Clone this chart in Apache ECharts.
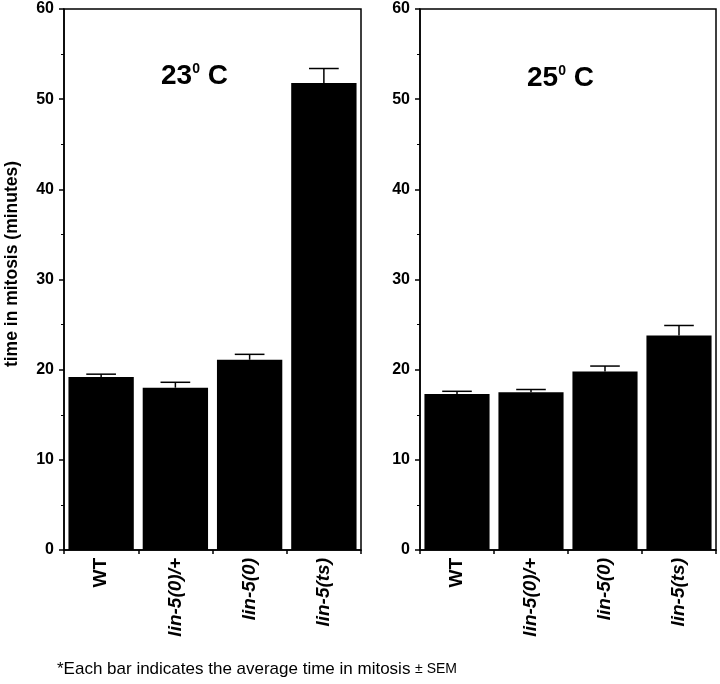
<!DOCTYPE html>
<html>
<head>
<meta charset="utf-8">
<script src="https://cdn.jsdelivr.net/npm/echarts@6/dist/echarts.min.js"></script>
<style>html,body{margin:0;padding:0;background:#fff}#c{width:720px;height:684px}</style>
</head>
<body>
<div id="c"></div>
<script>
var categories = ['WT', 'lin-5(0)/+', 'lin-5(0)', 'lin-5(ts)'];
var means23 = [19.2, 18.0, 21.1, 51.8];
var upper23 = [19.5, 18.6, 21.7, 53.4];
var means25 = [17.3, 17.5, 19.8, 23.8];
var upper25 = [17.6, 17.8, 20.4, 24.9];
var yTicks = [0, 10, 20, 30, 40, 50, 60];
var titles = ['23', '25'];

var FONT = '"Liberation Sans", Arial, Helvetica, sans-serif';
var chart = echarts.init(document.getElementById('c'), null, {renderer: 'canvas'});

function errData(means, ups) {
  return means.map(function (m, i) { return [i, m, ups[i]]; });
}
function renderErr(params, api) {
  var x = api.value(0), lo = api.coord([x, api.value(1)]), hi = api.coord([x, api.value(2)]);
  var half = api.size([1, 0])[0] * 0.2;
  var st = {stroke: '#000', lineWidth: 1.5};
  return {type: 'group', children: [
    {type: 'line', shape: {x1: lo[0], y1: lo[1], x2: hi[0], y2: hi[1]}, style: st},
    {type: 'line', shape: {x1: hi[0] - half, y1: hi[1], x2: hi[0] + half, y2: hi[1]}, style: st}
  ]};
}
function xAxis(idx) {
  return {
    type: 'category', gridIndex: idx, data: categories,
    axisLine: {lineStyle: {color: '#000', width: 1.5}},
    axisTick: {show: true, length: 4, lineStyle: {color: '#000', width: 1.5}},
    axisLabel: {
      rotate: 90, margin: 8, color: '#000', fontFamily: FONT, fontSize: 19, fontWeight: 'bold',
      formatter: function (v) { return v === 'WT' ? '{n|' + v + '}' : '{i|' + v + '}'; },
      rich: {
        n: {fontFamily: FONT, fontSize: 19, fontWeight: 'bold', color: '#000'},
        i: {fontFamily: FONT, fontSize: 19, fontWeight: 'bold', fontStyle: 'italic', color: '#000'}
      }
    }
  };
}
function yAxis(idx) {
  return {
    type: 'value', gridIndex: idx, min: yTicks[0], max: yTicks[yTicks.length - 1],
    interval: yTicks[1] - yTicks[0],
    axisLine: {show: true, lineStyle: {color: '#000', width: 1.5}},
    axisTick: {show: true, length: 5, lineStyle: {color: '#000', width: 1.5}},
    minorTick: {show: true, splitNumber: 2, length: 3, lineStyle: {color: '#000', width: 1}},
    splitLine: {show: false},
    axisLabel: {color: '#000', fontFamily: FONT, fontSize: 16, fontWeight: 'bold', margin: 10}
  };
}
function titleText(t, x, y) {
  return {
    type: 'text', left: x, top: y,
    style: {
      text: '{b|' + t + '}{s|0}{b| C}',
      rich: {
        b: {fontFamily: FONT, fontSize: 28, fontWeight: 'bold', fill: '#000', color: '#000', lineHeight: 30},
        s: {fontFamily: FONT, fontSize: 14, fontWeight: 'bold', fill: '#000', color: '#000', lineHeight: 30, padding: [0, 0, 14, 0]}
      }
    }
  };
}

chart.setOption({
  animation: false,
  backgroundColor: '#fff',
  grid: [
    {left: 64, right: 359, top: 9, bottom: 134, show: true, borderColor: '#000', borderWidth: 1.5, backgroundColor: 'transparent'},
    {left: 420, right: 4, top: 9, bottom: 134, show: true, borderColor: '#000', borderWidth: 1.5, backgroundColor: 'transparent'}
  ],
  xAxis: [xAxis(0), xAxis(1)],
  yAxis: [yAxis(0), yAxis(1)],
  series: [
    {type: 'bar', xAxisIndex: 0, yAxisIndex: 0, data: means23, barCategoryGap: '12%', itemStyle: {color: '#000'}},
    {type: 'custom', xAxisIndex: 0, yAxisIndex: 0, data: errData(means23, upper23), renderItem: renderErr, z: 3},
    {type: 'bar', xAxisIndex: 1, yAxisIndex: 1, data: means25, barCategoryGap: '12%', itemStyle: {color: '#000'}},
    {type: 'custom', xAxisIndex: 1, yAxisIndex: 1, data: errData(means25, upper25), renderItem: renderErr, z: 3}
  ],
  graphic: [
    titleText(titles[0], 161, 62),
    titleText(titles[1], 527, 64),
    {
      type: 'text', x: 12, y: 264, rotation: Math.PI / 2,
      style: {
        text: 'time in mitosis (minutes)', fill: '#000',
        font: 'bold 17.5px ' + FONT, textAlign: 'center', textVerticalAlign: 'middle'
      }
    },
    {
      type: 'text', left: 57, top: 661,
      style: {
        text: '{a|*Each bar indicates the average time in mitosis }{b|± SEM}',
        rich: {
          a: {fontFamily: FONT, fontSize: 17, fill: '#000', color: '#000', lineHeight: 20},
          b: {fontFamily: FONT, fontSize: 14, fill: '#000', color: '#000', lineHeight: 20}
        }
      }
    }
  ]
});
</script>
</body>
</html>
